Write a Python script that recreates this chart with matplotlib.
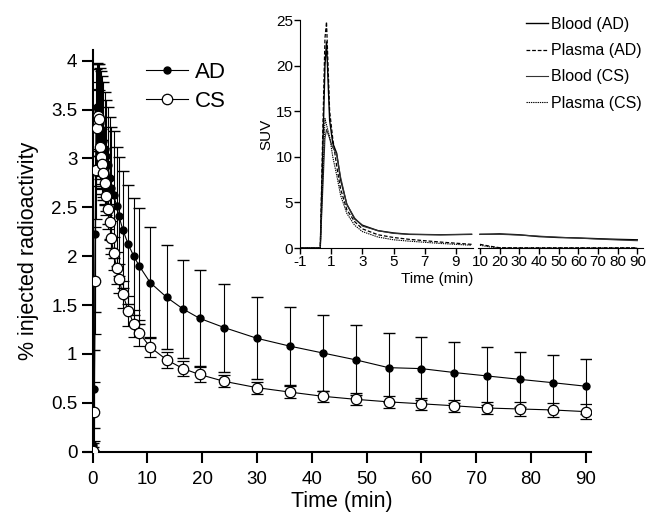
import numpy as np
import matplotlib
matplotlib.use("Agg")
import matplotlib.pyplot as plt

plt.rcParams['font.family'] = ['Liberation Sans', 'DejaVu Sans']
plt.rcParams['axes.unicode_minus'] = False

# main plot: % injected radioactivity, mean +/- SD
time_min = [0.1, 0.3, 0.45, 0.6, 0.75, 0.9, 1.1, 1.3, 1.5, 1.7, 1.9, 2.2, 2.5,
            2.8, 3.1, 3.4, 3.8, 4.4, 4.8, 5.5, 6.5, 7.5, 8.5, 10.5, 13.5, 16.5,
            19.5, 24, 30, 36, 42, 48, 54, 60, 66, 72, 78, 84, 90]
ad_mean = [0.07, 0.645, 2.23, 3.32, 3.53, 3.50, 3.45, 3.36, 3.30, 3.24, 3.18,
           3.10, 3.03, 2.93, 2.80, 2.70, 2.63, 2.51, 2.41, 2.27, 2.12, 2.00,
           1.90, 1.73, 1.58, 1.46, 1.365, 1.27, 1.16, 1.08, 1.01, 0.94, 0.86,
           0.85, 0.81, 0.775, 0.74, 0.706, 0.67]
ad_sd = [0.02, 0.4, 0.8, 0.6, 0.45, 0.47, 0.52, 0.57, 0.6, 0.6, 0.6, 0.58,
         0.57, 0.6, 0.62, 0.62, 0.65, 0.61, 0.61, 0.60, 0.61, 0.60, 0.59, 0.57,
         0.53, 0.50, 0.49, 0.45, 0.42, 0.40, 0.39, 0.36, 0.35, 0.32, 0.31,
         0.30, 0.28, 0.28, 0.28]
cs_mean = [0.01, 0.41, 1.75, 2.88, 3.31, 3.43, 3.40, 3.12, 3.02, 2.94, 2.855,
           2.75, 2.62, 2.48, 2.35, 2.19, 2.03, 1.88, 1.77, 1.61, 1.44, 1.31,
           1.215, 1.07, 0.94, 0.85, 0.79, 0.72, 0.655, 0.61, 0.567, 0.536,
           0.51, 0.49, 0.47, 0.447, 0.437, 0.427, 0.41]
cs_sd = [0.01, 0.3, 0.55, 0.5, 0.4, 0.35, 0.3, 0.3, 0.28, 0.25, 0.25, 0.22,
         0.2, 0.2, 0.18, 0.17, 0.17, 0.16, 0.15, 0.14, 0.15, 0.14, 0.13, 0.1,
         0.08, 0.08, 0.08, 0.06, 0.06, 0.06, 0.055, 0.06, 0.06, 0.06, 0.06,
         0.06, 0.07, 0.07, 0.08]

# inset: SUV curves
t_early = [-1, 0.3, 0.45, 0.6, 0.7, 0.9, 1.1, 1.35, 1.6, 2.0, 2.5, 3.0, 4.0,
           5.0, 6.0, 8.0, 10.0]
blood_ad_early = [0, 0, 10, 20, 22.6, 14, 11.5, 10.4, 7.5, 4.8, 3.2, 2.5, 1.9,
                  1.65, 1.5, 1.45, 1.5]
plasma_ad_early = [0, 0, 12, 23, 24.8, 15, 12, 9, 6.5, 4.2, 2.9, 2.1, 1.45,
                   1.15, 0.95, 0.65, 0.4]
blood_cs_early = [0, 0, 6, 12, 13, 12, 11, 10.3, 7.8, 4.8, 3.3, 2.4, 1.9,
                  1.6, 1.5, 1.45, 1.5]
plasma_cs_early = [0, 0, 7, 14.2, 13.5, 12.2, 10, 8, 5.8, 3.8, 2.5, 1.8, 1.2,
                   0.9, 0.75, 0.5, 0.3]
t_late = [10, 15, 20, 30, 40, 50, 60, 70, 80, 90]
blood_ad_late = [1.5, 1.52, 1.55, 1.45, 1.25, 1.15, 1.1, 1.02, 0.95, 0.9]
plasma_ad_late = [0.4, 0.2, 0.03, 0.02, 0.02, 0.02, 0.02, 0.02, 0.02, 0.02]
blood_cs_late = [1.5, 1.5, 1.5, 1.42, 1.3, 1.18, 1.08, 0.98, 0.88, 0.8]
plasma_cs_late = [0.3, 0.12, 0.01, 0.01, 0.01, 0.01, 0.01, 0.01, 0.01, 0.01]

W, H = 662, 512
fig = plt.figure(figsize=(W / 100, H / 100), dpi=100)

ax = fig.add_axes([92.7 / W, 1 - 451.7 / H, 498.5 / W, 401.7 / H])
eb_ad = ax.errorbar(time_min, ad_mean, yerr=ad_sd, fmt='-o', color='k', lw=0.8,
                    ms=5, mfc='k', mec='k', ecolor='k', elinewidth=0.8,
                    capsize=4, capthick=1, zorder=2)
eb_cs = ax.errorbar(time_min, cs_mean, yerr=cs_sd, fmt='-o', color='k', lw=0.8,
                    ms=7.5, mfc='white', mec='k', mew=0.9, ecolor='k',
                    elinewidth=0.8, capsize=4, capthick=1, zorder=3)
ax.set_xlim(0, 91)
ax.set_ylim(0, 4.11)
ax.set_xticks(range(0, 91, 10))
ax.set_yticks([0, 0.5, 1, 1.5, 2, 2.5, 3, 3.5, 4])
ax.set_yticklabels(['0', '0.5', '1', '1.5', '2', '2.5', '3', '3.5', '4'])
for s in ['top', 'right']:
    ax.spines[s].set_visible(False)
for s in ['left', 'bottom']:
    ax.spines[s].set_linewidth(1.5)
ax.spines['bottom'].set_bounds(-1.5, 91)
ax.tick_params(direction='out', length=8, width=1.5, labelsize=13.5)
ax.tick_params(axis='x', pad=6)
ax.tick_params(axis='y', pad=3)
ax.set_xlabel('Time (min)', fontsize=15.5, labelpad=2)
ax.set_ylabel('% injected radioactivity', fontsize=15.5, labelpad=9)
ax.legend([eb_ad[0], eb_cs[0]], ['AD', 'CS'], loc='upper left',
          bbox_to_anchor=(0.107, 0.97), frameon=False, fontsize=16,
          handlelength=1.9, handletextpad=0.28, labelspacing=0.35,
          borderaxespad=0, borderpad=0)

# inset, broken x axis
bottom = 1 - 248 / H
height = 228 / H
ax1 = fig.add_axes([300 / W, bottom, 173 / W, height])
ax2 = fig.add_axes([478 / W, bottom, 165 / W, height])
styles = [dict(color='k', lw=1.0, ls='-', label='Blood (AD)'),
          dict(color='k', lw=0.9, ls=(0, (3, 1.5)), label='Plasma (AD)'),
          dict(color='#333333', lw=0.8, ls='-', label='Blood (CS)'),
          dict(color='k', lw=0.8, ls=(0, (1.2, 0.8)), label='Plasma (CS)')]
early = [blood_ad_early, plasma_ad_early, blood_cs_early, plasma_cs_early]
late = [blood_ad_late, plasma_ad_late, blood_cs_late, plasma_cs_late]
for st, ye, yl in zip(styles, early, late):
    ax1.plot(t_early, ye, **st)
    ax2.plot(t_late, yl, **{k: v for k, v in st.items() if k != 'label'})

ax1.set_xlim(-1, 10.09)
ax2.set_xlim(9.0, 92.9)
for a in (ax1, ax2):
    a.set_ylim(0, 25)
    a.patch.set_visible(False)
    a.spines['top'].set_visible(False)
    a.spines['right'].set_visible(False)
    a.tick_params(direction='out', length=4, width=1, labelsize=11, pad=1)
ax2.spines['left'].set_visible(False)
ax2.set_yticks([])
ax1.set_xticks([-1, 1, 3, 5, 7, 9])
ax1.set_yticks([0, 5, 10, 15, 20, 25])
ax2.set_xticks(range(10, 91, 10))
ax1.set_ylabel('SUV', fontsize=11, labelpad=2)
fig.text(437 / W, 1 - 279 / H, 'Time (min)', fontsize=11, ha='center',
         va='center')
handles, labels = ax1.get_legend_handles_labels()
fig.legend(handles, labels, loc='upper left',
           bbox_to_anchor=(526 / W, 1 - 17 / H), frameon=False, fontsize=11.5,
           handlelength=1.4, handletextpad=0.15, labelspacing=0.7,
           borderaxespad=0, borderpad=0)

fig.savefig('out.png', dpi=100)
